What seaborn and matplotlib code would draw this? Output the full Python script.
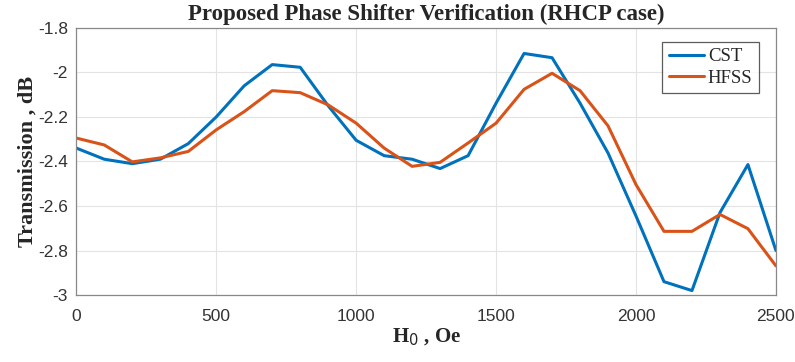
import numpy as np
import pandas as pd
import matplotlib.pyplot as plt
import seaborn as sns

# field values H0 (Oe)
h0 = [0, 100, 200, 300, 400, 500, 600, 700, 800, 900, 1000, 1100, 1200,
      1300, 1400, 1500, 1600, 1700, 1800, 1900, 2000, 2100, 2200, 2300, 2400, 2500]

# transmission (dB)
cst = [-2.34, -2.39, -2.41, -2.39, -2.32, -2.20, -2.06, -1.965, -1.977, -2.15, -2.305, -2.374, -2.39,
       -2.432, -2.374, -2.138, -1.915, -1.934, -2.138, -2.362, -2.645, -2.94, -2.98, -2.63, -2.414, -2.80]
hfss = [-2.295, -2.326, -2.402, -2.384, -2.355, -2.258, -2.176, -2.082, -2.091, -2.146, -2.228, -2.34, -2.422,
        -2.404, -2.317, -2.228, -2.076, -2.004, -2.082, -2.24, -2.504, -2.714, -2.714, -2.638, -2.702, -2.869]

df = pd.concat([
    pd.DataFrame({"H0": h0, "T": cst, "solver": "CST"}),
    pd.DataFrame({"H0": h0, "T": hfss, "solver": "HFSS"}),
])

sns.set_style("white")
plt.rcParams['font.family'] = ['Liberation Sans', 'DejaVu Sans']

fig = plt.figure(figsize=(7.95, 3.62), dpi=100)
ax = fig.add_axes([0.096, 0.185, 0.880, 0.738])

sns.lineplot(data=df, x="H0", y="T", hue="solver",
             palette={"CST": "#0072BD", "HFSS": "#D95319"},
             linewidth=2.2, ax=ax)

ax.set_xlim(0, 2500)
ax.set_ylim(-3, -1.8)
ax.set_xticks(np.arange(0, 2501, 500))
ax.set_yticks(np.arange(-3, -1.79, 0.2))
ax.set_yticklabels(['-3', '-2.8', '-2.6', '-2.4', '-2.2', '-2', '-1.8'])
ax.grid(True, color='#e3e3e3', linewidth=0.8)
ax.tick_params(direction='in', length=4, color='#555555', labelsize=12.5, labelcolor='#333333')
ax.tick_params(axis='x', pad=10)
ax.tick_params(axis='y', pad=6)
for s in ax.spines.values():
    s.set_color('#888888')
    s.set_linewidth(0.9)

serif = ['Liberation Serif', 'DejaVu Serif']
ax.set_title("Proposed Phase Shifter Verification (RHCP case)", family=serif,
             fontsize=16.5, fontweight='bold', pad=6)
ax.set_xlabel("H$_0$ , Oe", family=serif, fontsize=15, fontweight='bold', labelpad=2)
ax.set_ylabel("Transmission , dB", family=serif, fontsize=16, fontweight='bold', labelpad=0)

leg = ax.legend(loc='upper right', prop={'family': serif, 'size': 13.5},
                frameon=True, fancybox=False, edgecolor='#333333',
                handlelength=1.9, handletextpad=0.2, borderpad=0.35,
                labelspacing=0.22, borderaxespad=0,
                bbox_to_anchor=(0.976, 0.948))
leg.get_frame().set_linewidth(0.9)

fig.savefig("out.png", dpi=100)
